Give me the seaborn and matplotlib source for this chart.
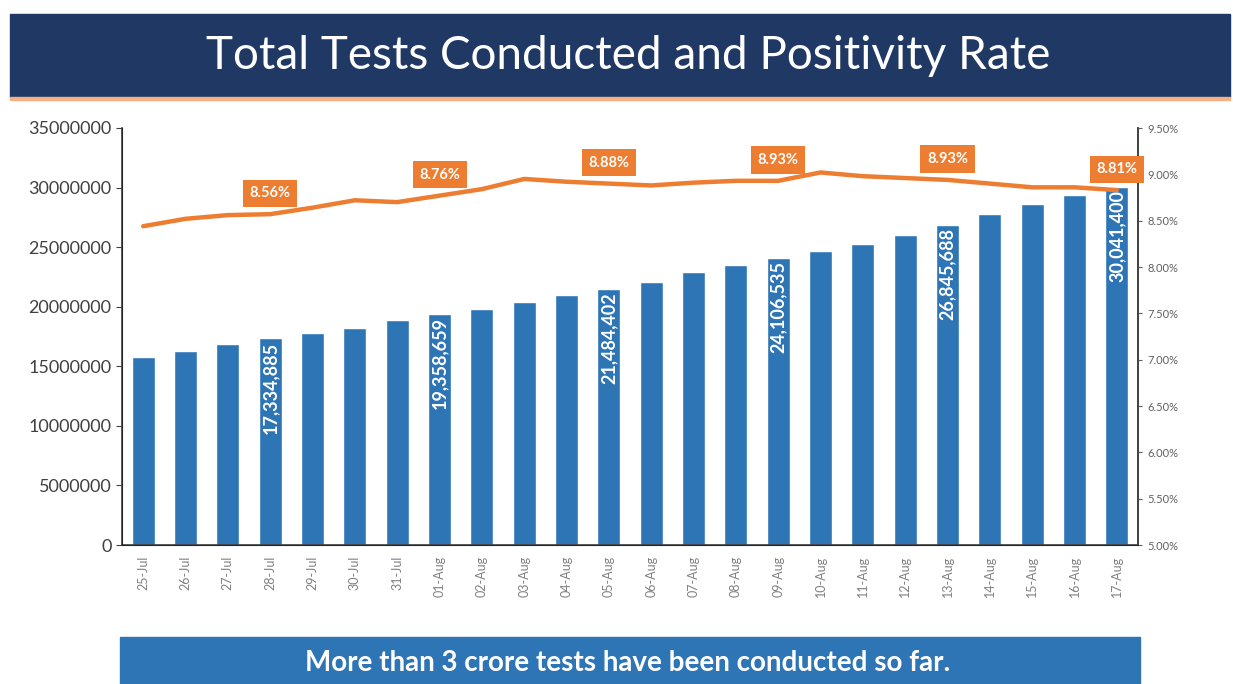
import numpy as np
import pandas as pd
import matplotlib
matplotlib.use("Agg")
import matplotlib.pyplot as plt
import seaborn as sns
from matplotlib.patches import Rectangle

# --- data ---
dates = ['25-Jul', '26-Jul', '27-Jul', '28-Jul', '29-Jul', '30-Jul', '31-Jul',
         '01-Aug', '02-Aug', '03-Aug', '04-Aug', '05-Aug', '06-Aug', '07-Aug',
         '08-Aug', '09-Aug', '10-Aug', '11-Aug', '12-Aug', '13-Aug', '14-Aug',
         '15-Aug', '16-Aug', '17-Aug']
total_tests = [15800000, 16300000, 16860000, 17334885, 17800000, 18200000, 18850000,
               19358659, 19800000, 20400000, 21000000, 21484402, 22100000, 22900000,
               23500000, 24106535, 24650000, 25300000, 26050000, 26845688, 27800000,
               28600000, 29400000, 30041400]
positivity = [8.44, 8.52, 8.56, 8.57, 8.64, 8.72, 8.70, 8.77, 8.84, 8.95, 8.92, 8.90,
              8.88, 8.91, 8.93, 8.93, 9.02, 8.98, 8.96, 8.94, 8.90, 8.86, 8.86, 8.83]
bar_labels = {3: '17,334,885', 7: '19,358,659', 11: '21,484,402', 15: '24,106,535',
              19: '26,845,688', 23: '30,041,400'}
rate_labels = {3: '8.56%', 7: '8.76%', 11: '8.88%', 15: '8.93%', 19: '8.93%', 23: '8.81%'}

df = pd.DataFrame({'date': dates, 'tests': total_tests, 'rate': positivity})

BLUE = '#2E75B6'
ORANGE = '#ED7D31'
NAVY = '#1F3864'

sns.set_style("white")
plt.rcParams['font.family'] = ['Lato', 'DejaVu Sans']

W, H = 1233, 684
fig = plt.figure(figsize=(W / 100, H / 100), dpi=100)
fig.patch.set_facecolor('white')

# title banner
fig.patches.append(Rectangle((10 / W, 1 - 97 / H), 1220 / W, 83 / H,
                             transform=fig.transFigure, color=NAVY, zorder=0))
fig.patches.append(Rectangle((10 / W, 1 - 100 / H), 1220 / W, 3 / H,
                             transform=fig.transFigure, color='#F4B183', zorder=0))
fig.text(628 / W, 1 - 56 / H, 'Total Tests Conducted and Positivity Rate', color='white',
         fontsize=33, ha='center', va='center')

# bottom banner
fig.patches.append(Rectangle((120 / W, 0), 1020 / W, 47 / H,
                             transform=fig.transFigure, color=BLUE, zorder=0))
fig.text(628 / W, 21 / H, 'More than 3 crore tests have been conducted so far.',
         color='white', fontsize=20, fontweight='bold', ha='center', va='center')

ax = fig.add_axes([122 / W, 139 / H, 1016 / W, 417 / H])
sns.barplot(data=df, x='date', y='tests', color=BLUE, width=0.55, saturation=1, ax=ax)
ax.set_ylim(0, 35000000)
ax.set_yticks(range(0, 35000001, 5000000))
ax.set_yticklabels([str(v) for v in range(0, 35000001, 5000000)])
ax.set_xlim(-0.5, len(dates) - 0.5)
ax.set_xlabel('')
ax.set_ylabel('')
ax.tick_params(axis='y', labelsize=13, colors='#404040', length=4, direction='out')
ax.tick_params(axis='x', labelrotation=90, labelsize=9, labelcolor='#808080', length=0, pad=8)
ax.set_xticks(np.arange(-0.5, len(dates), 1.0), minor=True)
ax.tick_params(axis='x', which='minor', length=6, direction='inout', color='#404040')
for s in ['left', 'bottom', 'right']:
    ax.spines[s].set_color('#404040')
    ax.spines[s].set_linewidth(1.2)
ax.spines['top'].set_visible(False)

for i, txt in bar_labels.items():
    ax.text(i, total_tests[i] - 250000, txt, rotation=90, color='white', fontsize=13,
            fontweight='bold', ha='center', va='top', zorder=5)

ax2 = ax.twinx()
sns.lineplot(x=np.arange(len(dates)), y=positivity, color=ORANGE, linewidth=3.2, ax=ax2)
ax2.set_ylim(5.0, 9.5)
ax2.set_yticks(np.arange(5.0, 9.51, 0.5))
ax2.set_yticklabels(['%.2f%%' % v for v in np.arange(5.0, 9.51, 0.5)])
ax2.tick_params(axis='y', labelsize=8, colors='#606060', length=3, direction='out')
ax2.spines['top'].set_visible(False)
ax2.spines['right'].set_color('#404040')
ax2.spines['right'].set_linewidth(1.2)
ax2.set_ylabel('')

for i, txt in rate_labels.items():
    ax2.annotate(txt, (i, positivity[i]), xytext=(0, 15), textcoords='offset points',
                 ha='center', va='center', color='white', fontsize=10.5, fontweight='bold',
                 bbox=dict(boxstyle='square,pad=0.45', fc=ORANGE, ec='none'), zorder=6)

fig.savefig('out.png', dpi=100)
